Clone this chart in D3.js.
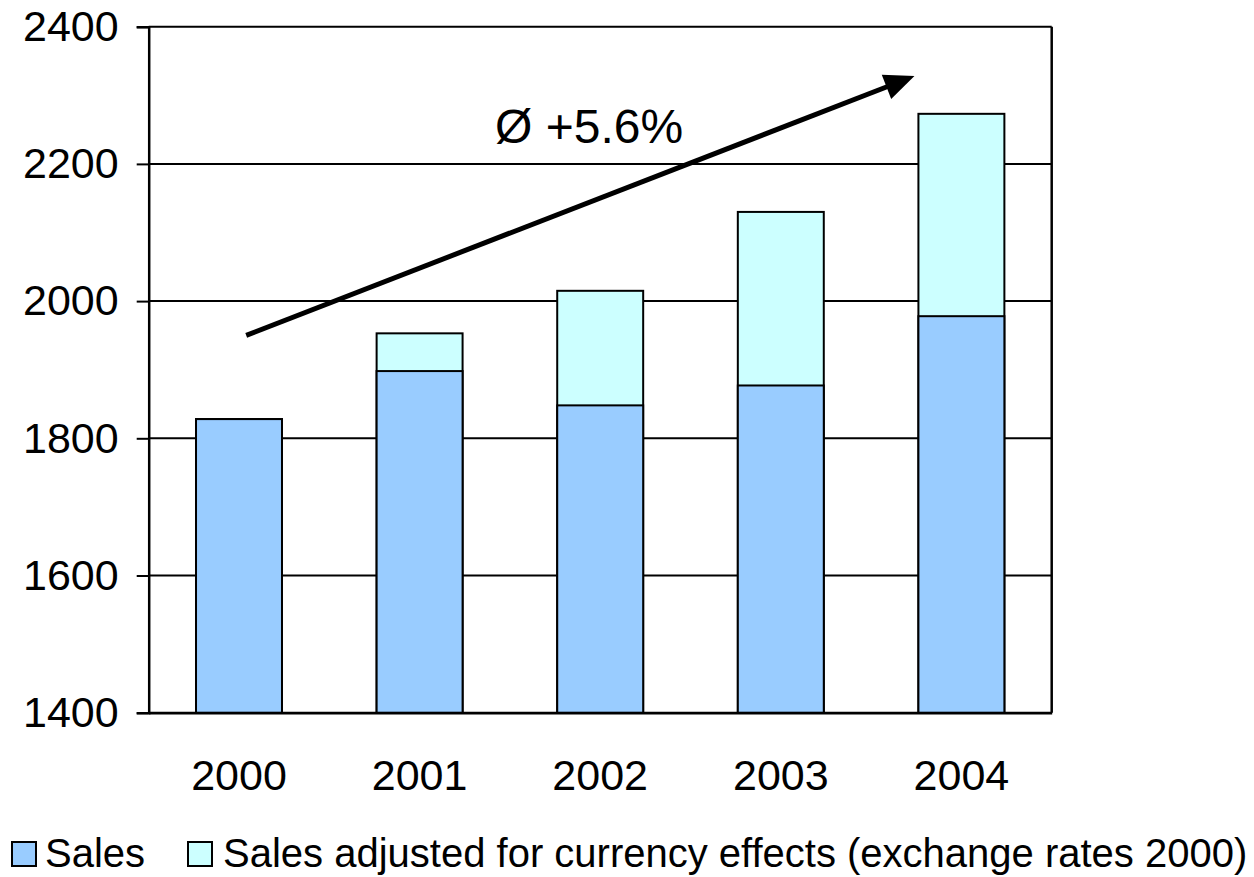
<!DOCTYPE html>
<html>
<head>
<meta charset="utf-8">
<script src="https://cdn.jsdelivr.net/npm/d3@7/dist/d3.min.js"></script>
<style>
  html, body { margin: 0; padding: 0; background: #fff; }
  svg { display: block; }
  text { font-family: "Liberation Sans", Arial, sans-serif; fill: #000; }
</style>
</head>
<body>
<svg id="chart" width="1254" height="877"></svg>
<script>
// Yearly sales figures
const years = ["2000", "2001", "2002", "2003", "2004"];
const sales = [1828, 1898, 1848, 1877, 1978];
const salesAdjusted = [1828, 1953, 2015, 2130, 2273];
const yTicks = [1400, 1600, 1800, 2000, 2200, 2400];
const seriesNames = ["Sales", "Sales adjusted for currency effects (exchange rates 2000)"];
const seriesColors = ["#99CCFF", "#CCFFFF"];

// Trend annotation: from/to as [year index, value]
const trendFrom = [0.04, 1950];
const trendTo = [3.74, 2328];
const trendLabel = "Ø +5.6%";

const svg = d3.select("#chart");
const plot = { left: 148.7, right: 1051.7, top: 26.7, bottom: 712.7 };

const x = d3.scaleBand()
  .domain(years)
  .range([plot.left, plot.right])
  .paddingInner(0.524)
  .paddingOuter(0.262);

const y = d3.scaleLinear()
  .domain([1400, 2400])
  .range([plot.bottom, plot.top]);

// Continuous position along the year axis (index -> band centre)
const xIdx = d3.scaleLinear()
  .domain([0, years.length - 1])
  .range([x(years[0]) + x.bandwidth() / 2, x(years[years.length - 1]) + x.bandwidth() / 2]);

// Horizontal grid lines
svg.append("g")
  .selectAll("line")
  .data(yTicks)
  .join("line")
  .attr("x1", plot.left).attr("x2", plot.right)
  .attr("y1", d => y(d)).attr("y2", d => y(d))
  .attr("stroke", "#000").attr("stroke-width", 2);

// Right border of the plot area
svg.append("line")
  .attr("x1", plot.right).attr("x2", plot.right)
  .attr("y1", plot.top).attr("y2", plot.bottom)
  .attr("stroke", "#000").attr("stroke-width", 2.5);

// Bars: adjusted value behind, sales in front
const bars = svg.append("g");
bars.selectAll("rect.adj")
  .data(years)
  .join("rect")
  .attr("class", "adj")
  .attr("x", d => x(d))
  .attr("width", x.bandwidth())
  .attr("y", (d, i) => y(salesAdjusted[i]))
  .attr("height", (d, i) => y(1400) - y(salesAdjusted[i]))
  .attr("fill", seriesColors[1])
  .attr("stroke", "#000").attr("stroke-width", 2);

bars.selectAll("rect.sales")
  .data(years)
  .join("rect")
  .attr("class", "sales")
  .attr("x", d => x(d))
  .attr("width", x.bandwidth())
  .attr("y", (d, i) => y(sales[i]))
  .attr("height", (d, i) => y(1400) - y(sales[i]))
  .attr("fill", seriesColors[0])
  .attr("stroke", "#000").attr("stroke-width", 2);

// Y axis
const yAxis = svg.append("g")
  .attr("transform", `translate(${plot.left},0)`)
  .call(d3.axisLeft(y).tickValues(yTicks).tickFormat(d3.format("d")).tickSize(12).tickPadding(18));
yAxis.select(".domain").attr("stroke", "#000").attr("stroke-width", 2.5);
yAxis.selectAll(".tick line").attr("stroke", "#000").attr("stroke-width", 2);
yAxis.selectAll(".tick text").attr("font-size", 43).attr("font-family", "\"Liberation Sans\", Arial, sans-serif");

// X axis
const xAxis = svg.append("g")
  .attr("transform", `translate(0,${plot.bottom})`)
  .call(d3.axisBottom(x).tickSize(0).tickPadding(47));
xAxis.select(".domain").attr("stroke", "#000").attr("stroke-width", 2.5);
xAxis.selectAll(".tick text").attr("font-size", 43).attr("font-family", "\"Liberation Sans\", Arial, sans-serif");

// Trend arrow
const x1 = xIdx(trendFrom[0]), y1 = y(trendFrom[1]);
const x2 = xIdx(trendTo[0]), y2 = y(trendTo[1]);
const ang = Math.atan2(y2 - y1, x2 - x1);
const headLen = 30, headHalf = 13;
const bx = x2 - headLen * Math.cos(ang), by = y2 - headLen * Math.sin(ang);
svg.append("line")
  .attr("x1", x1).attr("y1", y1)
  .attr("x2", bx + 2 * Math.cos(ang)).attr("y2", by + 2 * Math.sin(ang))
  .attr("stroke", "#000").attr("stroke-width", 5);
svg.append("path")
  .attr("d", d3.line()([
    [x2, y2],
    [bx - headHalf * Math.sin(ang), by + headHalf * Math.cos(ang)],
    [bx + headHalf * Math.sin(ang), by - headHalf * Math.cos(ang)]
  ]) + "Z")
  .attr("fill", "#000");

svg.append("text")
  .attr("x", 495).attr("y", 143)
  .attr("font-size", 48)
  .text(trendLabel);

// Legend
const legend = svg.append("g");
const legendItems = [
  { name: seriesNames[0], color: seriesColors[0], bx: 12, tx: 45 },
  { name: seriesNames[1], color: seriesColors[1], bx: 188, tx: 223 }
];
legendItems.forEach(it => {
  legend.append("rect")
    .attr("x", it.bx).attr("y", 842).attr("width", 24).attr("height", 24)
    .attr("fill", it.color).attr("stroke", "#000").attr("stroke-width", 2);
  legend.append("text")
    .attr("x", it.tx).attr("y", 867)
    .attr("font-size", 40)
    .text(it.name);
});
</script>
</body>
</html>
